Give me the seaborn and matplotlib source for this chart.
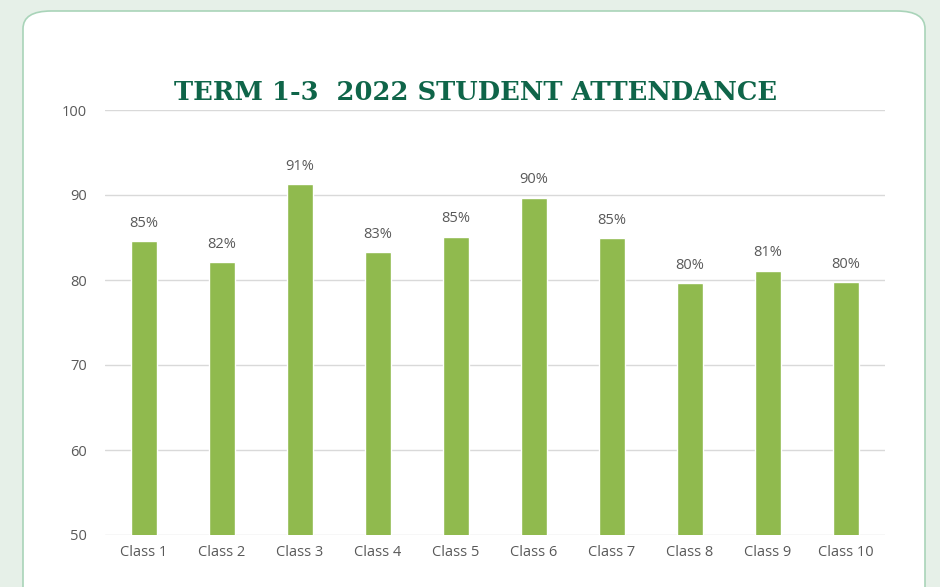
import numpy as np
import pandas as pd
import seaborn as sns
import matplotlib.pyplot as plt
from matplotlib.patches import FancyBboxPatch

# data
classes = ['Class 1', 'Class 2', 'Class 3', 'Class 4', 'Class 5',
           'Class 6', 'Class 7', 'Class 8', 'Class 9', 'Class 10']
attendance = [84.6, 82.1, 91.3, 83.3, 85.1, 89.7, 84.9, 79.6, 81.1, 79.8]
pct_labels = ['85%', '82%', '91%', '83%', '85%', '90%', '85%', '80%', '81%', '80%']
y_ticks = [50, 60, 70, 80, 90, 100]

df = pd.DataFrame({'cls': classes, 'att': attendance})

sns.set_theme(style='white')
plt.rcParams['font.family'] = ['Open Sans', 'DejaVu Sans']

fig = plt.figure(figsize=(9.4, 5.87), dpi=100)
fig.patch.set_facecolor('#e6f0e8')

# white rounded card behind the chart
card = FancyBboxPatch((23 / 940, -0.1), 902 / 940, 1.1 - 11 / 587,
                      boxstyle='round,pad=0,rounding_size=0.03',
                      transform=fig.transFigure, facecolor='white',
                      edgecolor='#a9d4b9', linewidth=1.2, zorder=-10)
fig.patches.append(card)

ax = fig.add_axes([105 / 940, 52 / 587, 780 / 940, 425 / 587])
ax.set_facecolor('none')

sns.barplot(data=df, x='cls', y='att', color='#90ba4e', width=0.33,
            saturation=1, ax=ax, zorder=3)

ax.set_ylim(50, 100)
ax.set_yticks(y_ticks)
ax.yaxis.grid(True, color='#d9d9d9', linewidth=1, zorder=0)
ax.set_axisbelow(True)
for s in ax.spines.values():
    s.set_visible(False)
ax.tick_params(axis='both', length=0, labelsize=10.5, labelcolor='#595959')
ax.tick_params(axis='x', pad=7)
ax.tick_params(axis='y', pad=13)
ax.set_xlabel('')
ax.set_ylabel('')

# percentage labels over each bar
for i, (v, lab) in enumerate(zip(attendance, pct_labels)):
    ax.text(i, v + 1.2, lab, ha='center', va='bottom', fontsize=10.5,
            color='#595959')

fig.text(476 / 940, 1 - 92 / 587, 'TERM 1-3  2022 STUDENT ATTENDANCE',
         ha='center', va='center', fontsize=18.5, fontweight='bold',
         color='#0f6549', family=['DejaVu Serif'])

plt.savefig('out.png', dpi=100, facecolor=fig.get_facecolor())
